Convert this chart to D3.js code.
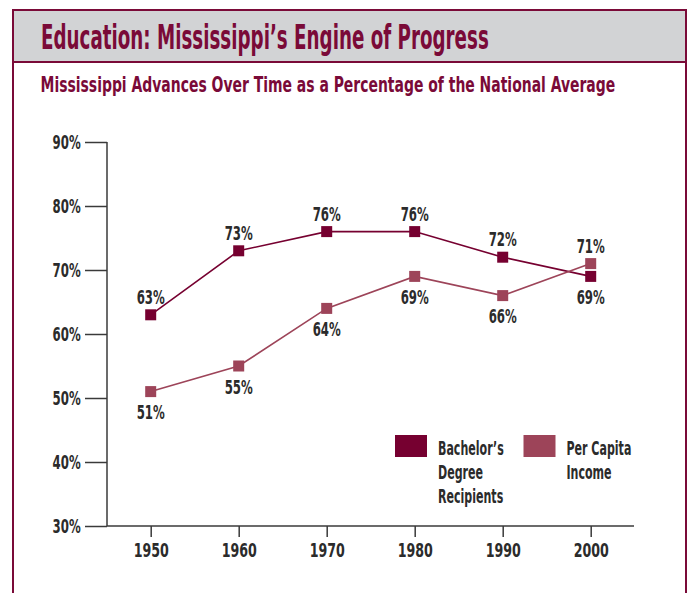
<!DOCTYPE html>
<html><head><meta charset="utf-8">
<script src="https://cdn.jsdelivr.net/npm/d3@7"></script>
<style>
body{margin:0;background:#fff;}
text{font-family:"DejaVu Sans Condensed","DejaVu Sans",sans-serif;font-weight:bold;}
</style></head>
<body>
<svg id="c" width="691" height="593"></svg>
<script>
const years = [1950, 1960, 1970, 1980, 1990, 2000];
const bachelors = [63, 73, 76, 76, 72, 69];
const income = [51, 55, 64, 69, 66, 71];
const yTicks = [30, 40, 50, 60, 70, 80, 90];
const seriesNames = ["Bachelor\u2019s|Degree|Recipients", "Per Capita|Income"];
const title = "Education: Mississippi\u2019s Engine of Progress";
const subtitle = "Mississippi Advances Over Time as a Percentage of the National Average";

const maroon = "#760030", rose = "#9d4459", border = "#7a0a38", ink = "#2b2b2b";
const svg = d3.select("#c");

// frame
svg.append("rect").attr("x",13).attr("y",10).attr("width",673).attr("height",52)
  .attr("fill","#d2d3d5").attr("stroke",border).attr("stroke-width",2);
svg.append("line").attr("x1",13).attr("x2",13).attr("y1",10).attr("y2",593).attr("stroke",border).attr("stroke-width",2);
svg.append("line").attr("x1",686).attr("x2",686).attr("y1",10).attr("y2",593).attr("stroke",border).attr("stroke-width",2);

svg.append("text").attr("class","fit").attr("data-w",448).attr("x",41).attr("y",48.5).attr("fill",border)
  .attr("font-size",33).text(title);
svg.append("text").attr("class","fit").attr("data-w",575).attr("x",40.5).attr("y",92.3).attr("fill",border)
  .attr("font-size",21.5).text(subtitle);

const x = d3.scaleLinear().domain([1950,2000]).range([150.7,590.7]);
const y = d3.scaleLinear().domain([30,90]).range([526,142]);

// y axis
const gy = svg.append("g").attr("transform","translate(107,0)")
  .call(d3.axisLeft(y).tickValues(yTicks).tickSize(22).tickPadding(4.3).tickFormat(d=>d+"%"));
gy.select(".domain").attr("d","M0,142V526");
gy.selectAll(".tick text").attr("data-sx",0.67);
// x axis
const gx = svg.append("g").attr("transform","translate(0,526)")
  .call(d3.axisBottom(x).tickValues(years).tickSize(11).tickPadding(6).tickFormat(d3.format("d")));
gx.select(".domain").attr("d","M107,0H634");
gx.selectAll(".tick text").attr("data-sx",0.72);
svg.selectAll(".tick line, .domain").attr("stroke","#3a3a3a").attr("stroke-width",1.5);
svg.selectAll(".tick text").attr("fill",ink).attr("font-size",19.5)
  .attr("font-family","'DejaVu Sans Condensed','DejaVu Sans',sans-serif").attr("font-weight","bold");

const line = d3.line().x((d,i)=>x(years[i])).y(d=>y(d));
function series(vals,color,above){
  svg.append("path").datum(vals).attr("d",line).attr("fill","none").attr("stroke",color).attr("stroke-width",1.6);
  svg.selectAll(null).data(vals).enter().append("rect")
    .attr("x",(d,i)=>x(years[i])-5.5).attr("y",d=>y(d)-5.5).attr("width",11).attr("height",11).attr("fill",color);
  svg.selectAll(null).data(vals).enter().append("text").attr("class","sq").attr("data-sx",0.67)
    .attr("x",(d,i)=>x(years[i]))
    .attr("y",(d,i)=>above(i)? y(d)-10.8 : y(d)+27.6)
    .attr("text-anchor","middle").attr("fill",ink).attr("font-size",19.5)
    .text(d=>d+"%");
}
series(bachelors,maroon,i=>i<5);
series(income,rose,i=>i===5);

// legend
const leg = [{c:maroon,x:395,t:seriesNames[0]},{c:rose,x:523.5,t:seriesNames[1]}];
leg.forEach(l=>{
  svg.append("rect").attr("x",l.x).attr("y",435).attr("width",32).attr("height",22).attr("fill",l.c);
  l.t.split("|").forEach((s,k)=>{
    svg.append("text").attr("class","sq").attr("data-sx",0.63).attr("x",l.x+43).attr("y",455+k*24).attr("fill",ink)
      .attr("font-size",19.5).text(s);
  });
});

// horizontal condensing of texts
svg.selectAll("text.fit").each(function(){
  const w = this.getComputedTextLength();
  this.setAttribute("data-sx", (+this.getAttribute("data-w"))/w);
});
svg.selectAll("text[data-sx]").each(function(){
  const t = d3.select(this);
  const sx = +t.attr("data-sx");
  const tx = +t.attr("x") || 0, ty = +t.attr("y") || 0;
  const prev = t.attr("transform") || "";
  t.attr("x",0).attr("y",0).attr("transform",`${prev} translate(${tx},${ty}) scale(${sx},1)`);
});
</script>
</body></html>
